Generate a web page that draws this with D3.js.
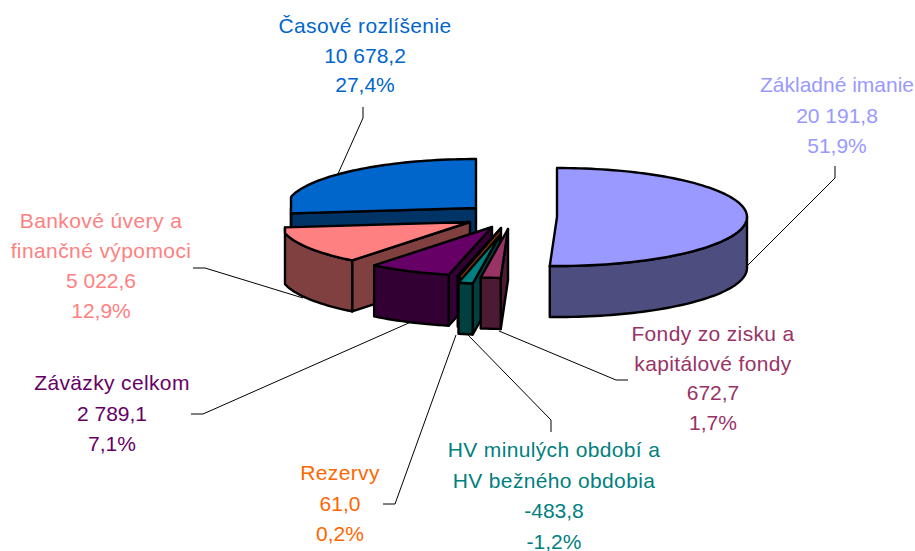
<!DOCTYPE html>
<html><head><meta charset="utf-8">
<script src="https://cdn.jsdelivr.net/npm/d3@7/dist/d3.min.js"></script>
<style>html,body{margin:0;padding:0;background:#fff}svg{display:block}text{font-family:"Liberation Sans",Arial,sans-serif;font-size:21px;text-anchor:middle}</style>
</head><body>
<svg id="c" width="915" height="551"></svg>
<script>
// Data
const categories = [
  ["Základné imanie"],
  ["Fondy zo zisku a","kapitálové fondy"],
  ["HV minulých období a","HV bežného obdobia"],
  ["Rezervy"],
  ["Záväzky celkom"],
  ["Bankové úvery a","finančné výpomoci"],
  ["Časové rozlíšenie"]
];
const values = [20191.8, 672.7, -483.8, 61.0, 2789.1, 5022.6, 10678.2];
const percents = [51.9, 1.7, -1.2, 0.2, 7.1, 12.9, 27.4];
// Styles
const topColors  = ["#9999FF","#993366","#008080","#FF6600","#660066","#FF8080","#0066CC"];
const wallColors = ["#4D4D80","#4D1A33","#004040","#803300","#330033","#804040","#003366"];
const nameSpacing = [0,0.35,0.35,0.35,0.35,0.4,0.35];
// Layout: exploded slice centres, label anchors and leader lines
const centres = [[557,217],[508,229],[500,235],[501,228],[492,227],[470,222],[476,208]];
const labelPos = [[837,92,30.5],[713,341,29.7],[554,457,30.5],[340,480,30.5],[112,390,30.5],[101,228,30],[365,33,29.5]];
const leaders = [
  [[835,166],[835,178],[745,268]],
  [[628,380],[616,380],[499,331]],
  [[551,432],[551,420],[468,335]],
  [[383,504],[395,504],[456,335]],
  [[191,414],[203,414],[411,322]],
  [[193,268],[205,268],[303,298]],
  [[363,107],[363,118],[337,176]]
];
const rx = 190, ry = 49, depth = 51, rxLeft = 185;

const svg = d3.select("#c");
const loc = d3.formatLocale({decimal:",",thousands:" ",grouping:[3],currency:["",""],minus:"-"});
const fmtV = loc.format(",.1f"), fmtP = loc.format(".1f");

const arcs = d3.pie().value(v=>Math.abs(v)).sort(null)(values);
const xUnit = d3.scaleLinear().domain([-rxLeft/rx,1]).range([-rxLeft,rx]).clamp(true);
const yUnit = d3.scaleLinear().domain([-1,1]).range([ry,-ry]);
const P = (c,a,h=0)=>[c[0]+xUnit(Math.sin(a)), c[1]+yUnit(Math.cos(a))+h];
const arcPts = (c,a0,a1,h=0)=>{
  const n = Math.max(2,Math.ceil((a1-a0)/0.03));
  return d3.range(n+1).map(i=>P(c,a0+(a1-a0)*i/n,h));
};
const line = d3.line();

// leader lines below the pie
svg.append("g").selectAll("path").data(leaders).join("path")
  .attr("d",d=>line(d)).attr("fill","none").attr("stroke","#000").attr("stroke-width",1);

// slices, back to front
const g = svg.append("g").attr("stroke","#000").attr("stroke-width",2.4).attr("stroke-linejoin","round");
const order = [6,5,4,3,2,1,0];
order.forEach(i=>{
  const a = arcs[i], c = centres[i], a0 = a.startAngle, a1 = a.endAngle;
  const walls = wallColors[i];
  if (a0 > Math.PI && a0 < 2*Math.PI) {
    const p = P(c,a0);
    g.append("path").attr("fill",walls)
      .attr("d",line([c,p,[p[0],p[1]+depth],[c[0],c[1]+depth]])+"Z");
  }
  const w0 = Math.max(a0,Math.PI/2), w1 = Math.min(a1,3*Math.PI/2);
  if (w1 > w0) {
    g.append("path").attr("fill",walls)
      .attr("d",line(arcPts(c,w0,w1).concat(arcPts(c,w0,w1,depth).reverse()))+"Z");
  }
  g.append("path").attr("fill",topColors[i])
    .attr("d",line([c].concat(arcPts(c,a0,a1)))+"Z");
});

// labels
values.forEach((v,i)=>{
  const names = categories[i];
  const lines = names.concat([fmtV(v), fmtP(percents[i])+"%"]);
  const [x,y,lh] = labelPos[i];
  svg.append("g").attr("fill",topColors[i]).selectAll("text").data(lines).join("text")
    .attr("x",x).attr("y",(d,k)=>y+k*lh)
    .attr("letter-spacing",(d,k)=>k<names.length?nameSpacing[i]:0)
    .text(d=>d);
});
</script>
</body></html>
